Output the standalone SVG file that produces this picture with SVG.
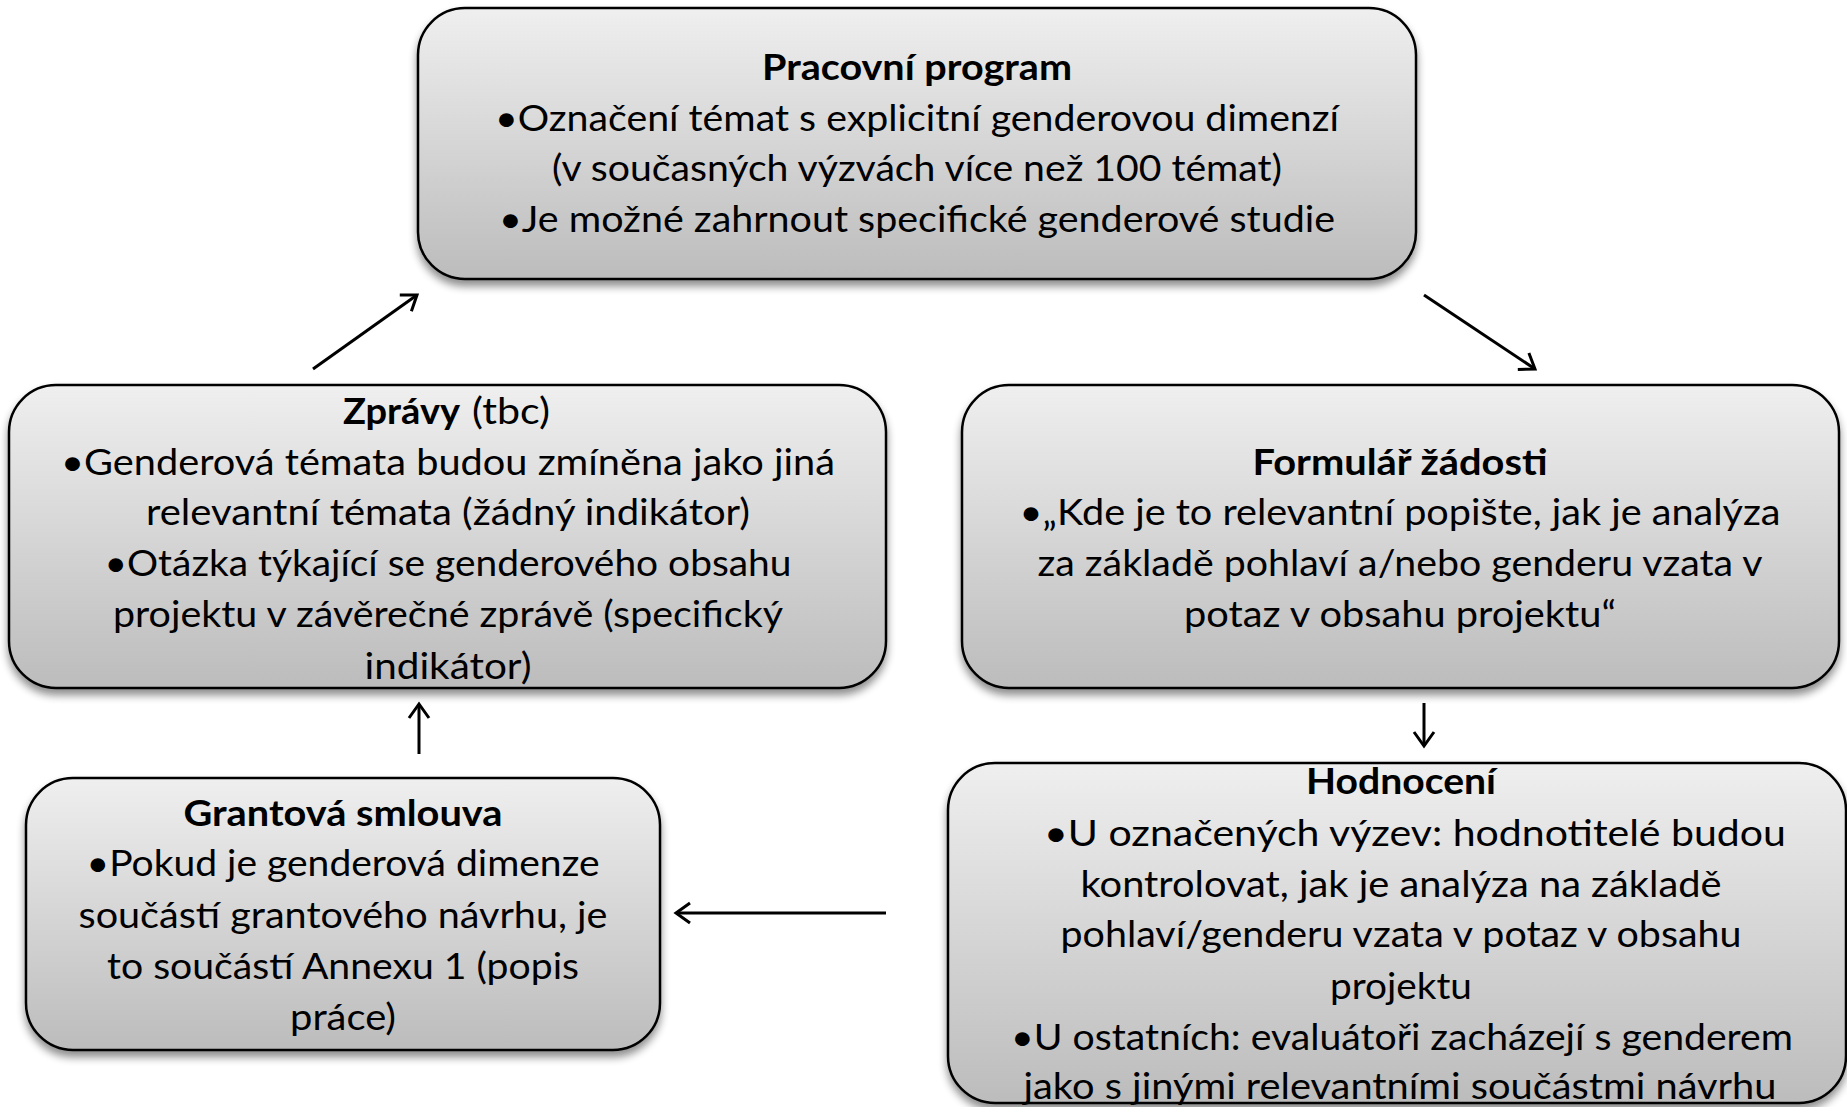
<svg xmlns="http://www.w3.org/2000/svg" width="1847" height="1107" viewBox="0 0 1847 1107">
<defs>
<linearGradient id="g" x1="0" y1="0" x2="0" y2="1">
<stop offset="0" stop-color="#efefef"/>
<stop offset="1" stop-color="#bcbcbc"/>
</linearGradient>
<filter id="sh" x="-10%" y="-10%" width="120%" height="130%">
<feGaussianBlur in="SourceAlpha" stdDeviation="4"/>
<feOffset dx="0" dy="6" result="b"/>
<feComponentTransfer><feFuncA type="linear" slope="0.45"/></feComponentTransfer>
<feMerge><feMergeNode/><feMergeNode in="SourceGraphic"/></feMerge>
</filter>
<marker id="ah" viewBox="0 0 24 24" refX="19" refY="12" markerWidth="24" markerHeight="24" markerUnits="userSpaceOnUse" orient="auto">
<path d="M5,2 L19,12 L5,22" fill="none" stroke="#000" stroke-width="3"/>
</marker>
<style>
.box{fill:url(#g);stroke:#000;stroke-width:2.5;filter:url(#sh)}
.t{font-family:Lato,"Liberation Sans",sans-serif;font-size:37px;fill:#000;text-anchor:middle}
.b{font-weight:bold}
.s{font-family:Lato,"Liberation Sans",sans-serif;font-size:37px;fill:#000}
.c{fill:none;stroke:#000;stroke-width:3;marker-end:url(#ah)}
</style>
</defs>

<g id="connectors">
<line class="c" x1="313" y1="369" x2="417" y2="295"/>
<line class="c" x1="1424" y1="295" x2="1535" y2="369"/>
<line class="c" x1="1424" y1="703" x2="1424" y2="746"/>
<line class="c" x1="886" y1="913" x2="676" y2="913"/>
<line class="c" x1="419" y1="754" x2="419" y2="704"/>
</g>

<g id="pracovni-program">
<rect class="box" x="418" y="8" width="998" height="271" rx="47"/>
<text class="t b" x="917" y="80" textLength="310" lengthAdjust="spacingAndGlyphs">Pracovní program</text>
<text class="t" x="917" y="131" textLength="844" lengthAdjust="spacingAndGlyphs">•Označení témat s explicitní genderovou dimenzí</text>
<text class="t" x="917" y="181" textLength="730" lengthAdjust="spacingAndGlyphs">(v současných výzvách více než 100 témat)</text>
<text class="t" x="917" y="232" textLength="836" lengthAdjust="spacingAndGlyphs">•Je možné zahrnout specifické genderové studie</text>
</g>

<g id="zpravy">
<rect class="box" x="9" y="385" width="877" height="303" rx="47"/>
<text class="s b" x="343" y="424" textLength="117" lengthAdjust="spacingAndGlyphs">Zprávy</text>
<text class="s" x="472" y="424" textLength="78" lengthAdjust="spacingAndGlyphs">(tbc)</text>
<text class="t" x="448" y="475" textLength="774" lengthAdjust="spacingAndGlyphs">•Genderová témata budou zmíněna jako jiná</text>
<text class="t" x="448" y="525" textLength="604" lengthAdjust="spacingAndGlyphs">relevantní témata (žádný indikátor)</text>
<text class="t" x="448" y="576" textLength="687" lengthAdjust="spacingAndGlyphs">•Otázka týkající se genderového obsahu</text>
<text class="t" x="448" y="627" textLength="670" lengthAdjust="spacingAndGlyphs">projektu v závěrečné zprávě (specifický</text>
<text class="t" x="448" y="679" textLength="167" lengthAdjust="spacingAndGlyphs">indikátor)</text>
</g>

<g id="formular-zadosti">
<rect class="box" x="962" y="385" width="877" height="303" rx="47"/>
<text class="t b" x="1400" y="475" textLength="295" lengthAdjust="spacingAndGlyphs">Formulář žádosti</text>
<text class="t" x="1400" y="525" textLength="761" lengthAdjust="spacingAndGlyphs">•„Kde je to relevantní popište, jak je analýza</text>
<text class="t" x="1400" y="576" textLength="725" lengthAdjust="spacingAndGlyphs">za základě pohlaví a/nebo genderu vzata v</text>
<text class="t" x="1400" y="627" textLength="432" lengthAdjust="spacingAndGlyphs">potaz v obsahu projektu“</text>
</g>

<g id="grantova-smlouva">
<rect class="box" x="26" y="778" width="634" height="272" rx="47"/>
<text class="t b" x="343" y="826" textLength="319" lengthAdjust="spacingAndGlyphs">Grantová smlouva</text>
<text class="t" x="343" y="876" textLength="513" lengthAdjust="spacingAndGlyphs">•Pokud je genderová dimenze</text>
<text class="t" x="343" y="928" textLength="529" lengthAdjust="spacingAndGlyphs">součástí grantového návrhu, je</text>
<text class="t" x="343" y="979" textLength="472" lengthAdjust="spacingAndGlyphs">to součástí Annexu 1 (popis</text>
<text class="t" x="343" y="1030" textLength="106" lengthAdjust="spacingAndGlyphs">práce)</text>
</g>

<g id="hodnoceni">
<rect class="box" x="948" y="763" width="898" height="340" rx="47"/>
<text class="t b" x="1401" y="794" textLength="190" lengthAdjust="spacingAndGlyphs">Hodnocení</text>
<text class="t" x="1415" y="846" textLength="742" lengthAdjust="spacingAndGlyphs">•U označených výzev: hodnotitelé budou</text>
<text class="t" x="1401" y="897" textLength="641" lengthAdjust="spacingAndGlyphs">kontrolovat, jak je analýza na základě</text>
<text class="t" x="1401" y="947" textLength="681" lengthAdjust="spacingAndGlyphs">pohlaví/genderu vzata v potaz v obsahu</text>
<text class="t" x="1401" y="999" textLength="142" lengthAdjust="spacingAndGlyphs">projektu</text>
<text class="t" x="1402" y="1050" textLength="782" lengthAdjust="spacingAndGlyphs">•U ostatních: evaluátoři zacházejí s genderem</text>
<text class="t" x="1400" y="1099" textLength="753" lengthAdjust="spacingAndGlyphs">jako s jinými relevantními součástmi návrhu</text>
</g>
</svg>
